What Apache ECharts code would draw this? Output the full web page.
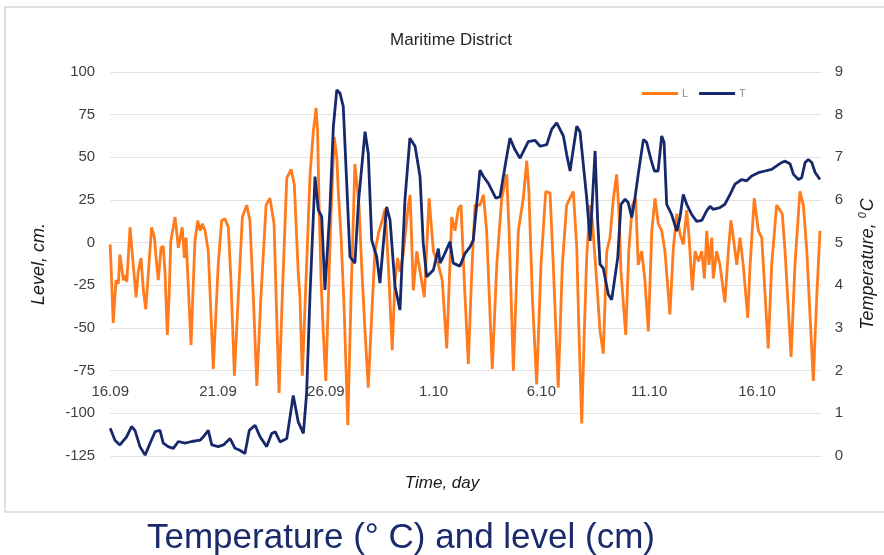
<!DOCTYPE html>
<html>
<head>
<meta charset="utf-8">
<script src="https://cdn.jsdelivr.net/npm/echarts@6/dist/echarts.min.js"></script>
<style>
  html, body { margin: 0; padding: 0; background: #ffffff; }
  #chart { width: 884px; height: 555px; }
</style>
</head>
<body>
<div id="chart"></div>
<script>
// Time tick labels (every 5 days starting 16.09)
const dayTicks = ['16.09', '21.09', '26.09', '1.10', '6.10', '11.10', '16.10'];

// Sea level L, cm: time in days since 16.09 and value
const levelDay = [0.00,0.14,0.27,0.38,0.45,0.61,0.69,0.77,0.92,1.07,1.20,1.30,1.43,1.54,1.65,1.92,2.05,2.16,2.23,2.36,2.46,2.54,2.65,2.73,2.81,3.01,3.16,3.34,3.44,3.52,3.59,3.75,3.83,3.93,4.06,4.17,4.27,4.40,4.55,4.78,5.01,5.17,5.32,5.48,5.60,5.76,5.94,6.13,6.33,6.48,6.64,6.80,6.99,7.23,7.41,7.60,7.72,7.83,7.98,8.19,8.39,8.54,8.72,8.80,8.91,9.11,9.27,9.42,9.55,9.62,9.68,9.78,9.88,10.00,10.12,10.24,10.39,10.51,10.58,10.71,10.86,11.02,11.17,11.35,11.43,11.54,11.66,11.82,11.97,12.13,12.28,12.47,12.62,12.75,12.90,13.08,13.21,13.33,13.44,13.59,13.83,13.91,14.06,14.22,14.37,14.57,14.79,14.99,15.22,15.40,15.61,15.84,15.99,16.15,16.27,16.42,16.61,16.77,16.92,17.15,17.31,17.46,17.72,17.93,18.16,18.39,18.50,18.70,18.93,19.16,19.32,19.42,19.58,19.78,19.98,20.20,20.40,20.55,20.78,20.97,21.17,21.48,21.64,21.74,21.87,21.99,22.10,22.25,22.36,22.56,22.72,22.87,23.03,23.18,23.34,23.49,23.60,23.69,23.91,24.06,24.22,24.37,24.49,24.65,24.80,24.96,25.12,25.27,25.42,25.58,25.73,25.96,26.12,26.28,26.43,26.58,26.74,26.85,27.00,27.13,27.28,27.44,27.56,27.67,27.77,27.90,27.97,28.13,28.28,28.51,28.67,28.79,28.90,29.06,29.21,29.36,29.57,29.68,29.87,30.06,30.22,30.52,30.68,30.91,31.17,31.30,31.58,31.76,31.99,32.15,32.31,32.61,32.77,32.92];
const levelCm = [-1,-47,-22,-24,-7,-22,-19,-23,9,-13,-32,-17,-9,-28,-39,9,3,-13,-22,-3,-2,-17,-54,-32,1,15,-3,9,-9,3,-17,-60,-32,1,13,7,11,7,-5,-74,-13,13,14,9,-22,-78,-32,15,22,13,-32,-84,-32,22,26,11,-42,-88,-32,38,43,34,-17,-32,-78,-13,40,65,79,65,26,-22,-52,-81,-32,17,62,50,30,3,-42,-107,-32,46,36,22,-13,-52,-85,-42,-5,7,13,20,-13,-63,-22,-9,-17,-7,22,28,-28,-5,-17,-32,26,-5,-13,-22,-62,15,7,20,22,-22,-71,-17,22,22,28,7,-74,-13,26,40,7,-75,7,26,48,30,-32,-83,-13,30,29,-13,-85,-13,22,30,-3,-52,-106,-52,-9,22,13,-22,-52,-65,-5,3,26,40,17,-17,-54,-3,22,26,-13,-5,-22,-52,7,26,11,7,-5,-42,-3,17,5,-1,19,3,-28,-5,-11,-5,-21,7,-13,3,-21,-5,-13,-35,-5,13,3,-13,3,-13,-44,-13,26,7,3,-62,-13,22,17,-5,-67,-13,30,22,-5,-81,-32,7];

// Water temperature T, °C: time in days since 16.09 and value
const tempDay = [0.00,0.22,0.45,0.76,0.99,1.15,1.38,1.62,1.85,2.08,2.31,2.46,2.69,2.93,3.16,3.47,3.78,4.17,4.32,4.55,4.71,5.01,5.25,5.56,5.79,5.99,6.25,6.45,6.72,6.95,7.26,7.49,7.65,7.88,8.19,8.49,8.72,8.96,9.11,9.27,9.50,9.65,9.81,9.96,10.19,10.35,10.51,10.66,10.81,10.97,11.12,11.35,11.51,11.82,11.97,12.13,12.36,12.51,12.82,12.98,13.21,13.44,13.67,13.90,14.14,14.37,14.52,14.68,14.99,15.22,15.30,15.45,15.76,15.91,16.22,16.46,16.69,16.84,17.15,17.31,17.54,17.89,18.08,18.39,18.54,18.78,19.01,19.39,19.70,19.94,20.25,20.48,20.71,21.02,21.17,21.33,21.48,21.64,21.79,22.10,22.26,22.49,22.61,22.72,22.87,23.10,23.26,23.54,23.69,23.88,24.02,24.19,24.34,24.49,24.73,24.88,25.08,25.24,25.41,25.58,25.69,25.81,26.04,26.28,26.43,26.58,26.74,26.97,27.20,27.44,27.67,27.82,27.97,28.28,28.51,28.75,28.98,29.29,29.52,29.75,30.06,30.37,30.68,30.91,31.15,31.30,31.53,31.69,31.92,32.07,32.23,32.38,32.54,32.69,32.92];
const tempC = [0.65,0.37,0.26,0.45,0.69,0.60,0.22,0.02,0.30,0.57,0.60,0.30,0.22,0.18,0.34,0.30,0.34,0.37,0.45,0.60,0.26,0.22,0.26,0.41,0.18,0.14,0.06,0.60,0.72,0.45,0.22,0.53,0.57,0.33,0.41,1.42,0.80,0.53,1.47,3.81,6.55,5.77,5.61,3.89,5.77,7.72,8.58,8.50,8.19,6.39,4.67,4.52,5.92,7.60,7.09,5.06,4.67,4.05,5.84,5.53,3.98,3.42,6.00,7.45,7.26,6.55,4.98,4.20,4.36,4.86,4.52,4.67,5.02,4.52,4.45,4.75,4.90,5.06,6.70,6.55,6.39,6.04,6.08,7.02,7.45,7.17,6.98,7.37,7.40,7.26,7.30,7.66,7.81,7.50,7.07,6.68,7.20,7.73,7.60,6.05,5.04,7.15,5.50,4.49,4.40,3.79,3.66,4.65,5.90,6.02,5.95,5.59,6.05,6.60,7.42,7.35,6.95,6.68,6.68,7.50,7.35,5.90,5.66,5.27,5.60,6.13,5.90,5.66,5.50,5.52,5.75,5.85,5.78,5.82,5.90,6.13,6.37,6.48,6.45,6.56,6.64,6.68,6.72,6.80,6.88,6.91,6.85,6.60,6.48,6.52,6.88,6.95,6.88,6.65,6.48];

const FONT = '"Liberation Sans", Arial, sans-serif';
const zip = (xs, ys) => xs.map((x, i) => [x, ys[i]]);

const chart = echarts.init(document.getElementById('chart'), null, { renderer: 'canvas' });

chart.setOption({
  animation: false,
  backgroundColor: '#ffffff',
  textStyle: { fontFamily: FONT },
  title: [
    {
      text: 'Maritime District',
      left: 446, top: 27, textAlign: 'center',
      textStyle: { fontFamily: FONT, fontSize: 17, fontWeight: 'normal', color: '#262626' }
    },
    {
      text: 'Temperature (° C) and level (cm)',
      left: 396, top: 516, textAlign: 'center',
      textStyle: { fontFamily: FONT, fontSize: 35, fontWeight: 'normal', color: '#1b2a6b' }
    }
  ],
  legend: {
    data: ['L', 'T'],
    left: 637, top: 83,
    icon: 'rect',
    itemWidth: 36, itemHeight: 3, itemGap: 11,
    textStyle: { fontFamily: FONT, fontSize: 11, color: '#8c8c8c', padding: [0, 0, 0, -1] }
  },
  grid: {
    left: 110.2, right: 62.3, top: 72, bottom: 99,
    containLabel: false,
    outerBoundsMode: 'none'
  },
  xAxis: {
    type: 'value',
    min: 0, max: 33, interval: 5,
    offset: -80,
    axisLine: { show: false },
    axisTick: { show: false },
    splitLine: { show: false },
    axisLabel: {
      margin: 8,
      fontFamily: FONT, fontSize: 15, color: '#404040',
      formatter: v => (v % 5 === 0 ? (dayTicks[v / 5] || '') : '')
    }
  },
  yAxis: [
    {
      type: 'value',
      min: -125, max: 100, interval: 25,
      name: 'Level, cm.',
      nameLocation: 'middle', nameGap: 62,
      nameTextStyle: { fontFamily: FONT, fontSize: 18, fontStyle: 'italic', color: '#1a1a1a' },
      axisLine: { show: false },
      axisTick: { show: false },
      axisLabel: { margin: 15, fontFamily: FONT, fontSize: 15, color: '#404040' },
      splitLine: { lineStyle: { color: '#e3e3e3', width: 1 } }
    },
    {
      type: 'value',
      min: 0, max: 9, interval: 1,
      position: 'right',
      name: 'Temperature, {sup|0}C',
      nameLocation: 'middle', nameGap: 36,
      nameTextStyle: {
        fontFamily: FONT, fontSize: 18, fontStyle: 'italic', color: '#1a1a1a',
        rich: { sup: { fontFamily: FONT, fontSize: 11, fontStyle: 'italic', color: '#1a1a1a', padding: [0, 1, 9, 0] } }
      },
      axisLine: { show: false },
      axisTick: { show: false },
      axisLabel: { margin: 13, fontFamily: FONT, fontSize: 15, color: '#404040' },
      splitLine: { show: false }
    }
  ],
  graphic: [
    {
      type: 'rect', silent: true, z: -1,
      shape: { x: 5, y: 7, width: 900, height: 505 },
      style: { fill: 'none', stroke: '#d6d6d6', lineWidth: 1.5 }
    },
    {
      type: 'text', left: 'center', top: 475,
      style: { text: 'Time, day', x: 0, fill: '#1a1a1a', font: 'italic 17px ' + FONT }
    }
  ],
  series: [
    {
      name: 'L', type: 'line', yAxisIndex: 0,
      data: zip(levelDay, levelCm),
      showSymbol: false, symbol: 'none',
      lineStyle: { color: '#ff7b1c', width: 2.8 },
      itemStyle: { color: '#ff7b1c' }
    },
    {
      name: 'T', type: 'line', yAxisIndex: 1,
      data: zip(tempDay, tempC),
      showSymbol: false, symbol: 'none',
      lineStyle: { color: '#17286b', width: 2.8 },
      itemStyle: { color: '#17286b' }
    }
  ]
});
</script>
</body>
</html>
